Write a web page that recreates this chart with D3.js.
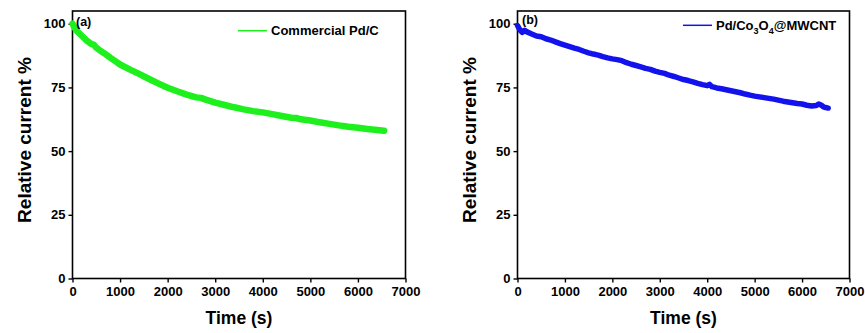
<!DOCTYPE html>
<html>
<head>
<meta charset="utf-8">
<script src="https://cdn.jsdelivr.net/npm/d3@7"></script>
<style>
  body { margin: 0; background: #fff; }
  text { font-family: "Liberation Sans", Arial, sans-serif; font-weight: bold; fill: #000; }
</style>
</head>
<body>
<svg id="chart" width="865" height="333"></svg>
<script>
// time (s) for each sample of panel (a)
var timeA = [0, 50, 100, 200, 300, 400, 450, 500, 600, 700, 800, 900, 1000, 1200, 1400, 1600, 1800, 2000,
    2200, 2400, 2600, 2700, 2800, 3000, 3200, 3400, 3600, 3800, 4000, 4200, 4400, 4600, 4700, 4800, 5000,
    5200, 5400, 5600, 5800, 6000, 6200, 6400, 6550];
// relative current % for commercial Pd/C
var currentA = [100, 98.2, 97, 95.2, 93.4, 92, 91.8, 90.6, 89.2, 88, 86.6, 85.3, 84, 82.1, 80.3, 78.4, 76.6, 74.9,
    73.5, 72.2, 71.1, 70.9, 70.2, 69, 68.1, 67.2, 66.4, 65.7, 65.2, 64.5, 63.8, 63.1, 63, 62.5, 62,
    61.3, 60.7, 60.1, 59.6, 59.2, 58.7, 58.3, 58];

// time (s) for each sample of panel (b)
var timeB = [0, 50, 100, 150, 200, 300, 400, 500, 600, 700, 800, 900, 1000, 1100, 1200, 1300, 1400, 1500,
    1600, 1700, 1800, 1900, 2000, 2100, 2200, 2300, 2400, 2500, 2600, 2700, 2800, 2900, 3000, 3100, 3200,
    3300, 3400, 3500, 3600, 3700, 3800, 3900, 4000, 4050, 4100, 4200, 4300, 4400, 4500, 4600, 4700, 4800,
    4900, 5000, 5100, 5200, 5300, 5400, 5500, 5600, 5700, 5800, 5900, 6000, 6100, 6200, 6300, 6350, 6400,
    6450, 6500, 6550];
// relative current % for Pd/Co3O4@MWCNT
var currentB = [99.3, 97.6, 96.6, 97.4, 96.8, 96, 95.2, 94.9, 94.1, 93.6, 92.9, 92.2, 91.6, 91, 90.4, 89.9, 89.2, 88.6,
    88.1, 87.7, 87.1, 86.6, 86.2, 85.9, 85.5, 84.7, 84.1, 83.6, 83.1, 82.5, 82.1, 81.4, 80.9, 80.5, 79.8,
    79.3, 78.7, 78.1, 77.7, 77.2, 76.6, 76.1, 75.7, 76.2, 75.3, 74.8, 74.5, 74.1, 73.7, 73.3, 72.9, 72.4,
    72, 71.6, 71.3, 71, 70.7, 70.4, 70, 69.6, 69.3, 69, 68.7, 68.5, 68, 67.7, 67.9, 68.5, 68.1,
    67.4, 67.1, 66.9];

var xTicks = [0, 1000, 2000, 3000, 4000, 5000, 6000, 7000];
var yTicks = [0, 25, 50, 75, 100];

var svg = d3.select("#chart");

function drawPanel(opt) {
    var x = d3.scaleLinear().domain([0, 7000]).range([opt.left, opt.right]);
    var y = d3.scaleLinear().domain([0, 105]).range([278.5, 11]);
    var g = svg.append("g");

    // frame
    g.append("rect")
        .attr("x", x(0)).attr("y", y(105))
        .attr("width", x(7000) - x(0)).attr("height", y(0) - y(105))
        .attr("fill", "none").attr("stroke", "#000").attr("stroke-width", 1.6);

    var xa = g.append("g").attr("transform", "translate(0," + y(0) + ")")
        .call(d3.axisBottom(x).tickValues(xTicks).tickFormat(d3.format("d")).tickSize(4).tickPadding(4));
    var ya = g.append("g").attr("transform", "translate(" + x(0) + ",0)")
        .call(d3.axisLeft(y).tickValues(yTicks).tickFormat(d3.format("d")).tickSize(4).tickPadding(3));
    [xa, ya].forEach(function (a) {
        a.select(".domain").remove();
        a.selectAll("line").attr("stroke", "#000").attr("stroke-width", 1.4);
        a.selectAll("text").attr("font-size", 13).attr("font-family", null).attr("fill", "#000");
    });

    // the curve, drawn thick to look like the noisy band
    var pts = d3.zip(opt.t, opt.v);
    var line = d3.line().x(function (d) { return x(d[0]); }).y(function (d) { return y(d[1]); });
    g.append("path").datum(pts)
        .attr("d", line).attr("fill", "none")
        .attr("stroke", opt.color).attr("stroke-width", opt.width)
        .attr("stroke-linejoin", "round").attr("stroke-linecap", "round");

    // axis titles
    g.append("text").attr("x", (opt.left + opt.right) / 2).attr("y", 324)
        .attr("text-anchor", "middle").attr("font-size", 17.5).text("Time (s)");
    g.append("text").attr("transform", "translate(" + opt.ylabX + ",140) rotate(-90)")
        .attr("text-anchor", "middle").attr("font-size", 19).text("Relative current %");

    // panel tag
    g.append("text").attr("x", opt.tagX).attr("y", opt.tagY).attr("font-size", 12.5).text(opt.tag);

    // legend
    g.append("line").attr("x1", opt.legX).attr("x2", opt.legX + 29)
        .attr("y1", opt.legY).attr("y2", opt.legY)
        .attr("stroke", opt.color).attr("stroke-width", 1.5);
    var lt = g.append("text").attr("x", opt.legX + 33).attr("y", opt.legY + 4.5).attr("font-size", 13);
    opt.legend.forEach(function (p) {
        var s = lt.append("tspan").text(p[0]);
        if (p[1]) s.attr("font-size", 9).attr("dy", 4);
        else if (p[2]) s.attr("dy", -4);
    });
}

drawPanel({
    left: 72.5, right: 405.5, t: timeA, v: currentA, color: "#1ef01e", width: 6.5,
    ylabX: 31, tag: "(a)", tagX: 76, tagY: 26, legX: 238, legY: 30.7,
    legend: [["Commercial Pd/C"]]
});
drawPanel({
    left: 517.5, right: 849.5, t: timeB, v: currentB, color: "#1212ec", width: 5.5,
    ylabX: 476, tag: "(b)", tagX: 522, tagY: 24, legX: 683, legY: 25.3,
    legend: [["Pd/Co"], ["3", true], ["O", false, true], ["4", true], ["@MWCNT", false, true]]
});
</script>
</body>
</html>
